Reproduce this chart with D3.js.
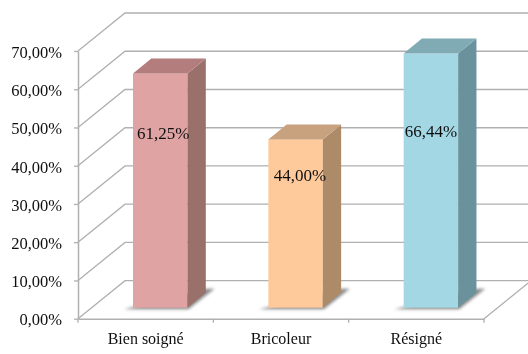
<!DOCTYPE html>
<html>
<head>
<meta charset="utf-8">
<script src="https://cdn.jsdelivr.net/npm/d3@7"></script>
<style>
  html, body { margin: 0; padding: 0; background: #fff; }
  svg { display: block; }
  text { font-family: "Liberation Serif", serif; fill: #111; }
</style>
</head>
<body>
<div id="chart"></div>
<script>
var categories = ["Bien soigné", "Bricoleur", "Résigné"];
var values = [61.25, 44.00, 66.44];
var yTicks = [0, 10, 20, 30, 40, 50, 60, 70];
var frontColors = ["#dfa3a3", "#fec99b", "#a2d7e3"];
var sideColors = ["#9a706b", "#ad8a68", "#6a929d"];
var topColors = ["#b37d7d", "#c8a27f", "#80aab4"];
// label placement relative to the bar top and bar centre, px
var labelDrop = [66, 42, 83];
var labelShift = [3, 4.5, 0];

var w = 528, h = 354;
var svg = d3.select("#chart").append("svg")
  .attr("width", w)
  .attr("height", h);

var defs = svg.append("defs");
defs.append("filter").attr("id", "shadow")
  .attr("x", "-20%").attr("y", "-40%").attr("width", "140%").attr("height", "180%")
  .append("feGaussianBlur").attr("stdDeviation", 1.6);
defs.append("filter").attr("id", "soft")
  .append("feGaussianBlur").attr("stdDeviation", 0.3);

//SCALES
var x = d3.scaleBand().domain(categories).range([78, 484]);
var y = d3.scaleLinear().domain([0, 70]).range([318.7, 51]);

// 3d offsets
var wallDx = 47, wallDy = -38;
var barDx = 55, barW = 54.5, barLift = 11;
var depthDx = 18.3, depthDy = -15;
var gridColor = "#b0b0b0";

var fmt = function(d) { return d3.format(".2f")(d).replace(".", ",") + "%"; };
var pts = function(a) { return a.map(function(p) { return p.join(","); }).join(" "); };

var chart = svg.append("g").attr("filter", "url(#soft)");

//GRID, left wall and back wall
yTicks.forEach(function(t) {
  chart.append("polyline")
    .attr("points", pts([[78, y(t)], [78 + wallDx, y(t) + wallDy], [w + 4, y(t) + wallDy]]))
    .attr("fill", "none")
    .attr("stroke", gridColor)
    .attr("stroke-width", 1.3);
});

//FLOOR right edge
chart.append("line")
  .attr("x1", 484).attr("y1", y(0))
  .attr("x2", 484 + wallDx).attr("y2", y(0) + wallDy)
  .attr("stroke", gridColor).attr("stroke-width", 1.3);

//AXES
var yAxis = d3.axisLeft(y).tickValues(yTicks).tickFormat(fmt).tickSize(4).tickSizeOuter(0).tickPadding(12);
var xAxis = d3.axisBottom(x).tickSize(0).tickPadding(14);

var gy = chart.append("g").attr("transform", "translate(78,0)").call(yAxis);
var gx = chart.append("g").attr("transform", "translate(0," + y(0) + ")").call(xAxis);

chart.append("g").attr("transform", "translate(0," + y(0) + ")")
  .selectAll("line")
  .data(d3.range(categories.length + 1))
  .join("line")
  .attr("x1", function(i) { return 78 + i * x.step(); })
  .attr("x2", function(i) { return 78 + i * x.step(); })
  .attr("y1", 0).attr("y2", 4)
  .attr("stroke", gridColor).attr("stroke-width", 1.3);

[gy, gx].forEach(function(g) {
  g.selectAll(".domain").attr("stroke", gridColor).attr("stroke-width", 1.5);
  g.selectAll(".tick line").attr("stroke", gridColor).attr("stroke-width", 1.3);
  g.selectAll("text").attr("font-family", null).attr("font-size", 16.5).attr("dy", "0.38em").style("fill", "#111");
});
gx.selectAll("text").attr("font-size", 16).attr("dy", "0.71em");

//BARS
var bars = chart.selectAll(".bar")
  .data(categories)
  .join("g")
  .attr("class", "bar");

bars.each(function(c, i) {
  var g = d3.select(this);
  var x0 = x(c) + barDx, x1 = x0 + barW;
  var yb = y(0) - barLift, yt = y(values[i]) - barLift;

  g.append("polygon")
    .attr("points", pts([[x0 - 9, yb + 1.5], [x1 + 1, yb + 1.5], [x1 + 27, yb - 19], [x1 + 19, yb - 19]]))
    .attr("fill", "#8d8d8d")
    .attr("filter", "url(#shadow)");

  g.append("rect")
    .attr("x", x0).attr("y", yt)
    .attr("width", barW).attr("height", yb - yt)
    .attr("fill", frontColors[i]);

  g.append("polygon")
    .attr("points", pts([[x1, yt], [x1 + depthDx, yt + depthDy], [x1 + depthDx, yb + depthDy], [x1, yb]]))
    .attr("fill", sideColors[i]);

  g.append("polygon")
    .attr("points", pts([[x0, yt], [x0 + depthDx, yt + depthDy], [x1 + depthDx, yt + depthDy], [x1, yt]]))
    .attr("fill", topColors[i]);

  g.append("text")
    .attr("x", x0 + barW / 2 + labelShift[i])
    .attr("y", yt + labelDrop[i])
    .attr("text-anchor", "middle")
    .attr("font-size", 17)
    .text(fmt(values[i]));
});
</script>
</body>
</html>
